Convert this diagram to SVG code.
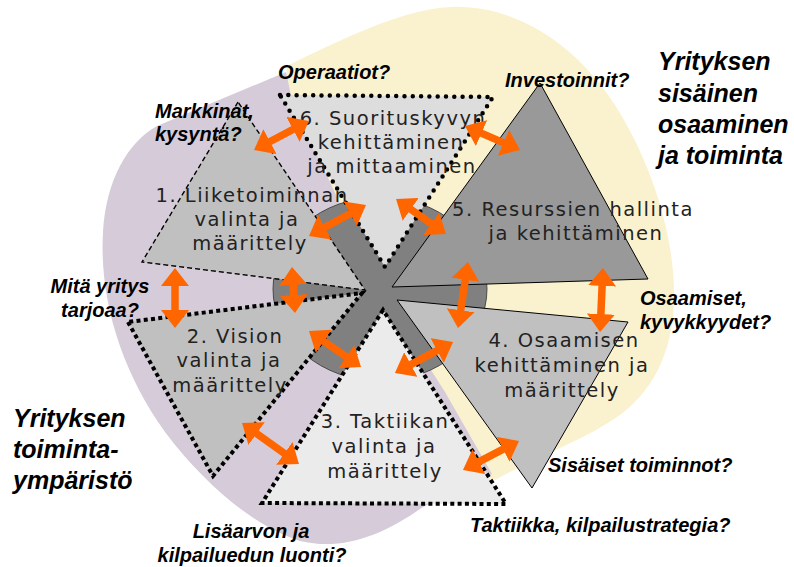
<svg xmlns="http://www.w3.org/2000/svg" width="794" height="567" viewBox="0 0 794 567">
  <style>
    .lbl { font-family: "DejaVu Sans", Verdana, sans-serif; font-size: 19.5px; letter-spacing: 1.5px; fill: #222; text-anchor: middle; }
    .q { font-family: "Liberation Sans", Arial, sans-serif; font-size: 20px; font-weight: bold; font-style: italic; fill: #000; }
    .big { font-family: "Liberation Sans", Arial, sans-serif; font-size: 25px; font-weight: bold; font-style: italic; fill: #000; }
    .roundDots { stroke: #000; stroke-width: 4.5; stroke-dasharray: 0 8.3; stroke-linecap: round; stroke-linejoin: round; }
    .squareDots { stroke: #000; stroke-width: 4; stroke-dasharray: 4 3.3; }
    .thinDash { stroke: #000; stroke-width: 1.4; stroke-dasharray: 5 3; }
    .solid { stroke: #000; stroke-width: 1; }
    .arrow { stroke: #ff6600; stroke-width: 7.5; marker-start: url(#head); marker-end: url(#head); }
  </style>
  <defs>
    <marker id="head" markerUnits="userSpaceOnUse" viewBox="0 0 18 28" markerWidth="18" markerHeight="28" refX="4" refY="14" orient="auto-start-reverse">
      <path d="M0,0 L18,14 L0,28 Z" fill="#ff6600"/>
    </marker>
  </defs>

  <!-- background areas -->
  <g id="areas">
    <path id="internal-area" fill="#faf2cf" d="M287,66 C340,40 400,10 450,7 C520,4 580,50 615,105 C650,160 673,230 674,290 C675,340 660,385 620,415 C585,440 540,455 495,480 L430,460 L370,300 L285,100 Z"/>
    <path id="environment-area" fill="#d6cbd9" d="M286,72 L157,126 C128,142 106,180 103,232 C99,300 122,372 165,432 C205,485 255,527 300,541 C342,551 382,536 423,507 L492,474 L445,392 L380,290 L292,100 Z"/>
  </g>

  <!-- central hub -->
  <g id="hub">
    <ellipse cx="380" cy="289" rx="107" ry="92" fill="#808080" stroke="#333" stroke-width="0.8"/>
  </g>

  <!-- nodes -->
  <g id="node6">
    <polygon points="280,95 493,97 385,267" fill="#dddddd" class="roundDots"/>
    <text class="lbl" x="393" y="125">6. Suorituskyvyn</text>
    <text class="lbl" x="391" y="149">kehittäminen</text>
    <text class="lbl" x="392" y="173">ja mittaaminen</text>
  </g>
  <g id="node5">
    <polygon points="540,83 392,287 648,279" fill="#999999" class="solid"/>
    <text class="lbl" x="573" y="216">5. Resurssien hallinta</text>
    <text class="lbl" x="576" y="240">ja kehittäminen</text>
  </g>
  <g id="node4">
    <polygon points="397,300 628,322 532,488" fill="#c0c0c0" class="solid"/>
    <text class="lbl" x="564" y="347">4. Osaamisen</text>
    <text class="lbl" x="562" y="372">kehittäminen ja</text>
    <text class="lbl" x="562" y="397">määrittely</text>
  </g>
  <g id="node3">
    <polygon points="383,310 262,503 506,504" fill="#ebebeb" class="squareDots"/>
    <text class="lbl" x="385" y="428">3. Taktiikan</text>
    <text class="lbl" x="384" y="453">valinta ja</text>
    <text class="lbl" x="385" y="478">määrittely</text>
  </g>
  <g id="node2">
    <polygon points="128,322 213,476 362,293" fill="#c0c0c0" class="squareDots"/>
    <text class="lbl" x="235" y="343">2. Vision</text>
    <text class="lbl" x="229" y="367">valinta ja</text>
    <text class="lbl" x="230" y="392">määrittely</text>
  </g>
  <g id="node1">
    <polygon points="238,102 142,262 365,290" fill="#c0c0c0" class="thinDash"/>
    <text class="lbl" x="252" y="202">1. Liiketoiminnan</text>
    <text class="lbl" x="247" y="226">valinta ja</text>
    <text class="lbl" x="250" y="250">määrittely</text>
  </g>

  <!-- two-way connectors -->
  <g id="connectors">
    <line class="arrow" x1="266.4" y1="143.5" x2="296.6" y2="127.5"/>
    <line class="arrow" x1="477.8" y1="131.6" x2="507.2" y2="144.4"/>
    <line class="arrow" x1="321.3" y1="229.3" x2="353.7" y2="211.7"/>
    <line class="arrow" x1="407.5" y1="207" x2="434.5" y2="226"/>
    <line class="arrow" x1="175" y1="282" x2="175" y2="314"/>
    <line class="arrow" x1="292.9" y1="281" x2="294.1" y2="299"/>
    <line class="arrow" x1="465.9" y1="275.8" x2="460.1" y2="314.2"/>
    <line class="arrow" x1="602.3" y1="282" x2="600.7" y2="318"/>
    <line class="arrow" x1="320.5" y1="339" x2="349.5" y2="359"/>
    <line class="arrow" x1="407.3" y1="366.4" x2="440.7" y2="348.6"/>
    <line class="arrow" x1="253.4" y1="431.2" x2="287.6" y2="455.8"/>
    <line class="arrow" x1="475.4" y1="463.6" x2="506.6" y2="447.4"/>
  </g>

  <!-- question labels -->
  <g id="questions">
    <text class="q" x="278" y="79">Operaatiot?</text>
    <text class="q" x="505" y="87">Investoinnit?</text>
    <text class="q" x="155" y="118">Markkinat,</text>
    <text class="q" x="155" y="141">kysyntä?</text>
    <text class="q" x="100" y="293" text-anchor="middle">Mitä yritys</text>
    <text class="q" x="100" y="317" text-anchor="middle">tarjoaa?</text>
    <text class="q" x="640" y="305">Osaamiset,</text>
    <text class="q" x="640" y="329">kyvykkyydet?</text>
    <text class="q" x="548" y="472">Sisäiset toiminnot?</text>
    <text class="q" x="470" y="532">Taktiikka, kilpailustrategia?</text>
    <text class="q" x="251" y="538" text-anchor="middle">Lisäarvon ja</text>
    <text class="q" x="252" y="562" text-anchor="middle">kilpailuedun luonti?</text>
  </g>

  <!-- area titles -->
  <g id="titles">
    <text class="big" x="658" y="70">Yrityksen</text>
    <text class="big" x="658" y="102">sisäinen</text>
    <text class="big" x="658" y="133">osaaminen</text>
    <text class="big" x="658" y="164">ja toiminta</text>
    <text class="big" x="13" y="427">Yrityksen</text>
    <text class="big" x="13" y="458">toiminta-</text>
    <text class="big" x="13" y="489">ympäristö</text>
  </g>
</svg>
